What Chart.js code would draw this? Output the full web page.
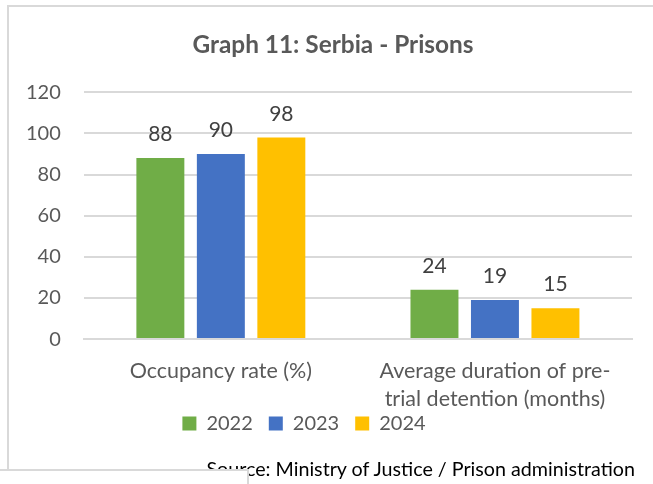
<!DOCTYPE html>
<html>
<head>
<meta charset="utf-8">
<script src="https://cdn.jsdelivr.net/npm/chart.js@4.4.1/dist/chart.umd.min.js"></script>
<style>
  html, body { margin: 0; padding: 0; background: #fff; }
  #wrap { position: relative; width: 653px; height: 484px; overflow: hidden; background: #fff; }
  #frame { position: absolute; left: 7px; top: 5px; width: 700px; height: 520px; border: 2px solid #d9d9d9; box-sizing: border-box; }
  #chartBox { position: absolute; left: 0; top: 0; width: 653px; height: 484px; }
  #source { position: absolute; right: 18px; top: 457px; font-family: Lato, sans-serif; font-size: 19.7px; line-height: 24px; color: #000; white-space: nowrap; }
  #cover { position: absolute; left: -2px; top: 469px; width: 249px; height: 40px; background: #fff; border-top: 2px solid #d9d9d9; border-right: 2px solid #d9d9d9; }
</style>
</head>
<body>
<div id="wrap">
  <div id="frame"></div>
  <div id="chartBox"><canvas id="prisonChart"></canvas></div>
  <div id="source">Source: Ministry of Justice / Prison administration</div>
  <div id="cover"></div>
</div>
<script>
// categories and values
const categories = [['Occupancy rate (%)'], ['Average duration of pre-', 'trial detention (months)']];
const years = ['2022', '2023', '2024'];
const values2022 = [88, 24];
const values2023 = [90, 19];
const values2024 = [98, 15];
const yTicks = [0, 20, 40, 60, 80, 100, 120];

const colors = ['#70AD47', '#4472C4', '#FFC000'];
const textColor = '#595959';
const fontName = 'Lato, sans-serif';

// draws the number above each bar (no datalabels plugin offline)
const barValues = {
    id: 'barValues',
    afterDatasetsDraw(chart) {
        const ctx = chart.ctx;
        ctx.save();
        ctx.font = '21px ' + fontName;
        ctx.fillStyle = '#404040';
        ctx.textAlign = 'center';
        ctx.textBaseline = 'alphabetic';
        chart.data.datasets.forEach((ds, i) => {
            chart.getDatasetMeta(i).data.forEach((bar, j) => {
                ctx.fillText(ds.data[j], bar.x, bar.y - 17);
            });
        });
        ctx.restore();
    }
};

// in the original the title is a bit right of centre, the legend left of it
// and close under the axis labels
const boxShift = {
    id: 'boxShift',
    afterLayout(chart) {
        const lg = chart.legend;
        lg.left -= 13.5; lg.right -= 13.5;
        lg.top -= 33.5; lg.bottom -= 33.5;
        const tt = chart.titleBlock;
        tt.left += 15.5; tt.right += 15.5;
    }
};

new Chart('prisonChart', {
    type: 'bar',
    data: {
        labels: categories,
        datasets: [
            { label: years[0], data: values2022, backgroundColor: colors[0] },
            { label: years[1], data: values2023, backgroundColor: colors[1] },
            { label: years[2], data: values2024, backgroundColor: colors[2] }
        ]
    },
    options: {
        responsive: true,
        maintainAspectRatio: false,
        animation: false,
        categoryPercentage: 0.662,
        barPercentage: 0.793,
        layout: { padding: { left: 3, right: 21, top: 0, bottom: 7 } },
        plugins: {
            title: {
                display: true,
                text: 'Graph 11: Serbia - Prisons',
                color: textColor,
                font: { family: fontName, size: 24.4, weight: 'bold', lineHeight: 1.2 },
                padding: { top: 31, bottom: 32 }
            },
            legend: {
                position: 'bottom',
                labels: {
                    color: textColor,
                    font: { family: fontName, size: 20 },
                    boxWidth: 14,
                    boxHeight: 14,
                    padding: 16
                }
            },
            tooltip: { enabled: false }
        },
        scales: {
            x: {
                grid: { display: false, drawTicks: false },
                border: { color: '#d9d9d9', width: 2 },
                ticks: {
                    color: textColor,
                    font: { family: fontName, size: 21.5, lineHeight: 1.3 },
                    maxRotation: 0,
                    padding: 18
                }
            },
            y: {
                min: 0,
                max: 120,
                afterBuildTicks(axis) {
                    axis.ticks = yTicks.map(v => ({ value: v }));
                },
                grid: { color: '#d9d9d9', lineWidth: 2, drawTicks: false },
                border: { display: false },
                ticks: {
                    color: textColor,
                    font: { family: fontName, size: 20 },
                    padding: 23
                }
            }
        }
    },
    plugins: [barValues, boxShift]
});
</script>
</body>
</html>
